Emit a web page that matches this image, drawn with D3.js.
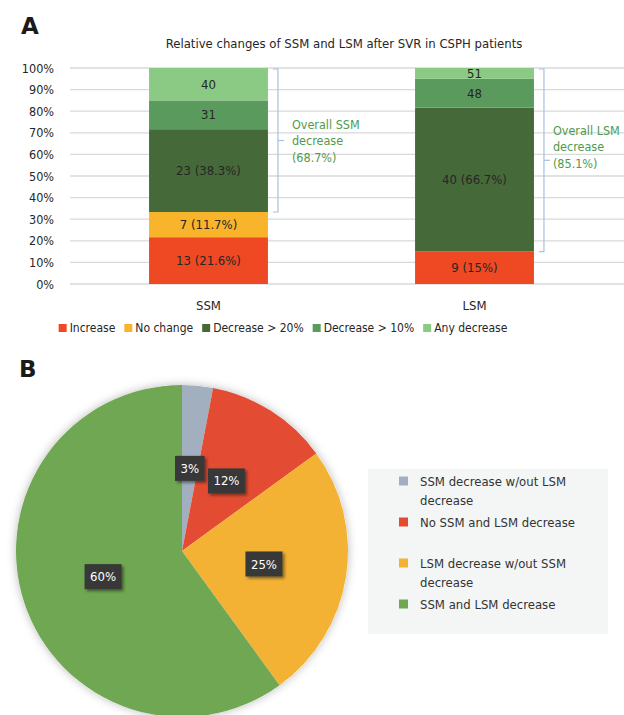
<!DOCTYPE html>
<html>
<head>
<meta charset="utf-8">
<script src="https://cdn.jsdelivr.net/npm/d3@7"></script>
<style>
  body { margin: 0; background: #fff; }
  svg { display: block; font-family: "DejaVu Sans Condensed", "DejaVu Sans", sans-serif; font-stretch: condensed; }
</style>
</head>
<body>
<svg id="chart" width="624" height="715"></svg>
<script>
// ---- data ----
var categories = ["SSM", "LSM"];
var changeKeys = ["Increase", "No change", "Decrease > 20%", "Decrease > 10%", "Any decrease"];
var ssmCounts = [13, 7, 23, 8, 9];
var lsmCounts = [9, 0, 40, 8, 3];
var ssmLabels = ["13 (21.6%)", "7 (11.7%)", "23 (38.3%)", "31", "40"];
var lsmLabels = ["9 (15%)", "", "40 (66.7%)", "48", "51"];
var yTicks = [0, 0.1, 0.2, 0.3, 0.4, 0.5, 0.6, 0.7, 0.8, 0.9, 1];
var ssmNote = ["Overall SSM", "decrease", "(68.7%)"];
var lsmNote = ["Overall LSM", "decrease", "(85.1%)"];

var pieGroups = ["SSM decrease w/out LSM decrease", "No SSM and LSM decrease",
                 "LSM decrease w/out SSM decrease", "SSM and LSM decrease"];
var pieValues = [3, 12, 25, 60];
var pieLabels = ["3%", "12%", "25%", "60%"];
var pieLegendLines = [["SSM decrease w/out LSM", "decrease"], ["No SSM and LSM decrease"],
                      ["LSM decrease w/out SSM", "decrease"], ["SSM and LSM decrease"]];

// ---- styles ----
var barColors = ["#ef4923", "#f8b42a", "#46693a", "#5b9a5d", "#8bca84"];
var pieColors = ["#a2afbf", "#e34c32", "#f3b234", "#70a752"];
var textColor = "#262626";
var noteColor = "#4f9a4f";
var bracketColor = "#a9c0df";
var fs = "13px";

var svg = d3.select("#chart");

// ===================== Panel A =====================
svg.append("text").attr("x", 21).attr("y", 34)
    .style("font-family", "DejaVu Sans, sans-serif").style("font-stretch", "normal")
    .style("font-size", "23px").style("font-weight", "bold").style("fill", "#1a1a1a")
    .text("A");

svg.append("text").attr("x", 344).attr("y", 48).attr("text-anchor", "middle")
    .style("font-size", "13px").style("fill", textColor)
    .text("Relative changes of SSM and LSM after SVR in CSPH patients");

var y = d3.scaleLinear().domain([0, 1]).range([284, 68]);
var x = d3.scaleBand().domain(categories).range([75.5, 607.5])
    .paddingInner(0.553).paddingOuter(0.2765);

// gridlines
svg.append("g").selectAll("line").data(yTicks).enter().append("line")
    .attr("x1", 70).attr("x2", 624)
    .attr("y1", function (d) { return y(d); }).attr("y2", function (d) { return y(d); })
    .style("stroke", "#d9d9d9").style("stroke-width", 1.3);

// y axis
var yAxis = d3.axisLeft(y).tickValues(yTicks).tickSize(0).tickPadding(0)
    .tickFormat(d3.format(".0%"));
var ga = svg.append("g").attr("transform", "translate(54,0)").call(yAxis);
ga.select(".domain").remove();
ga.attr("font-family", null).attr("font-size", null);
ga.selectAll("text").style("font-size", "12.5px").style("fill", textColor);

// stacked bars
var rows = categories.map(function (c, i) {
    var counts = i === 0 ? ssmCounts : lsmCounts;
    var r = { cat: c };
    changeKeys.forEach(function (k, j) { r[k] = counts[j]; });
    return r;
});
var stacked = d3.stack().keys(changeKeys).offset(d3.stackOffsetExpand)(rows);
var allLabels = [ssmLabels, lsmLabels];

var layers = svg.append("g").selectAll("g").data(stacked).enter().append("g")
    .style("fill", function (d, i) { return barColors[i]; });

layers.selectAll("rect").data(function (d) { return d; }).enter().append("rect")
    .attr("x", function (d) { return x(d.data.cat); })
    .attr("width", x.bandwidth())
    .attr("y", function (d) { return y(d[1]); })
    .attr("height", function (d) { return y(d[0]) - y(d[1]); });

layers.each(function (layer, li) {
    d3.select(this).selectAll("text").data(layer).enter().append("text")
        .attr("x", function (d) { return x(d.data.cat) + x.bandwidth() / 2; })
        .attr("y", function (d) { return (y(d[0]) + y(d[1])) / 2; })
        .attr("dy", "0.35em").attr("text-anchor", "middle")
        .style("font-size", fs).style("fill", textColor)
        .text(function (d, ci) { return allLabels[ci][li]; });
});

// category labels
svg.append("g").selectAll("text").data(categories).enter().append("text")
    .attr("x", function (d) { return x(d) + x.bandwidth() / 2; })
    .attr("y", 305).attr("dy", "0.35em").attr("text-anchor", "middle")
    .style("font-size", fs).style("fill", textColor)
    .text(function (d) { return d; });

// brackets for overall decrease (from top of "No change" to 100%)
var notes = [ssmNote, lsmNote];
var noteShift = [-16, -30];
var noteGap = [14, 9];
categories.forEach(function (c, ci) {
    var lo = stacked[1][ci][1], hi = stacked[4][ci][1];
    var bx = x(c) + x.bandwidth() + 10;
    var y0 = y(lo), y1 = y(hi) + 1, ym = (y0 + y1) / 2;
    var g = svg.append("g").style("stroke", bracketColor).style("stroke-width", 1.2).style("fill", "none");
    g.append("path").attr("d", "M" + (bx - 5) + "," + y1 + "H" + bx + "V" + y0 + "H" + (bx - 5));
    g.append("path").attr("d", "M" + bx + "," + ym + "H" + (bx + 6));
    svg.append("g").selectAll("text").data(notes[ci]).enter().append("text")
        .attr("x", bx + noteGap[ci])
        .attr("y", function (d, i) { return ym + noteShift[ci] + i * 16.5; })
        .attr("dy", "0.35em")
        .style("font-size", "12.5px").style("fill", noteColor)
        .text(function (d) { return d; });
});

// legend A (laid out from measured text widths, centred under the plot)
var lg = svg.append("g");
var items = lg.selectAll("g").data(changeKeys).enter().append("g");
items.append("rect").attr("x", 0).attr("y", -4)
    .attr("width", 8).attr("height", 8)
    .style("fill", function (d, i) { return barColors[i]; });
items.append("text").attr("x", 11).attr("dy", "0.35em")
    .style("font-size", "12px").style("fill", textColor)
    .text(function (d) { return d; });
var cursor = 0;
items.each(function () {
    var w = d3.select(this).select("text").node().getComputedTextLength();
    d3.select(this).attr("transform", "translate(" + cursor + ",0)");
    cursor += 11 + w + 9;
});
var total = cursor - 9;
lg.attr("transform", "translate(" + (283 - total / 2) + ",328)");

// ===================== Panel B =====================
svg.append("text").attr("x", 19).attr("y", 377)
    .style("font-family", "DejaVu Sans, sans-serif").style("font-stretch", "normal")
    .style("font-size", "23px").style("font-weight", "bold").style("fill", "#1a1a1a")
    .text("B");

var defs = svg.append("defs");
var sh = defs.append("filter").attr("id", "pieShadow")
    .attr("x", "-20%").attr("y", "-20%").attr("width", "140%").attr("height", "140%");
sh.append("feDropShadow").attr("dx", 0).attr("dy", 0).attr("stdDeviation", 5)
    .attr("flood-color", "#000").attr("flood-opacity", 0.28);
var bs = defs.append("filter").attr("id", "boxShadow")
    .attr("x", "-30%").attr("y", "-30%").attr("width", "170%").attr("height", "170%");
bs.append("feDropShadow").attr("dx", 2).attr("dy", 2).attr("stdDeviation", 1.5)
    .attr("flood-color", "#000").attr("flood-opacity", 0.45);

var radius = 166;
var pg = svg.append("g").attr("transform", "translate(182,551)");
var pie = d3.pie().sort(null).value(function (d) { return d; });
var arc = d3.arc().innerRadius(0).outerRadius(radius);
var arcs = pie(pieValues);

pg.append("circle").attr("r", radius).style("fill", "#fff").attr("filter", "url(#pieShadow)");
pg.selectAll("path").data(arcs).enter().append("path")
    .attr("d", arc)
    .style("fill", function (d, i) { return pieColors[i]; });

var lab = pg.selectAll("g.lab").data(arcs).enter().append("g").attr("class", "lab")
    .attr("transform", function (d) { return "translate(" + arc.centroid(d) + ")"; });
lab.append("text").attr("text-anchor", "middle").attr("dy", "0.35em")
    .style("font-size", fs).style("fill", "#fff")
    .text(function (d, i) { return pieLabels[i]; });
lab.each(function () {
    var t = d3.select(this).select("text");
    var w = t.node().getComputedTextLength() + 11;
    d3.select(this).insert("rect", "text")
        .attr("x", -w / 2).attr("y", -12.5).attr("width", w).attr("height", 25)
        .style("fill", "#383838").attr("filter", "url(#boxShadow)");
});

// legend B
svg.append("rect").attr("x", 368).attr("y", 469).attr("width", 240).attr("height", 165)
    .style("fill", "#f4f6f6");
var pl = svg.append("g").selectAll("g").data(pieGroups).enter().append("g")
    .attr("transform", function (d, i) { return "translate(399," + (481 + i * 41) + ")"; });
pl.append("rect").attr("x", 0).attr("y", -4.5).attr("width", 9).attr("height", 9)
    .style("fill", function (d, i) { return pieColors[i]; });
pl.each(function (d, i) {
    d3.select(this).selectAll("text").data(pieLegendLines[i]).enter().append("text")
        .attr("x", 21).attr("y", function (t, j) { return j * 19; }).attr("dy", "0.35em")
        .style("font-size", fs).style("fill", "#333")
        .text(function (t) { return t; });
});
</script>
</body>
</html>
